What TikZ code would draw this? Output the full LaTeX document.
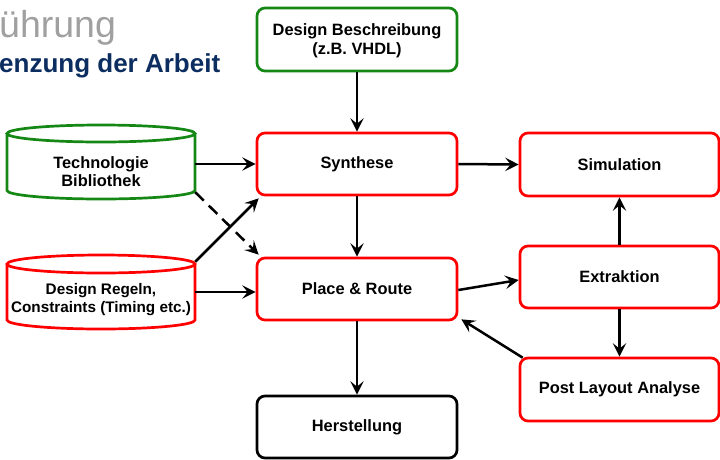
\documentclass[tikz,border=0pt]{standalone}
\usepackage{fontspec}
\setmainfont{Liberation Sans}
\usetikzlibrary{arrows.meta,calc}

\definecolor{boxred}{RGB}{255,0,0}
\definecolor{boxgreen}{RGB}{20,135,20}
\definecolor{titlegray}{RGB}{160,160,160}
\definecolor{titleblue}{RGB}{12,45,95}

\tikzset{
  flowbox/.style={draw, line width=2.7pt, rounded corners=8pt, inner sep=0pt,
    minimum width=200pt, minimum height=62pt, align=center,
    font=\fontsize{16.4}{19}\selectfont\bfseries},
  redbox/.style={flowbox, draw=boxred},
  greenbox/.style={flowbox, draw=boxgreen},
  blackbox/.style={flowbox, draw=black},
  cylarea/.style={inner sep=0pt, minimum width=188pt, minimum height=74pt},
  cyltext/.style={inner sep=0pt, align=center, font=\fontsize{16.4}{18}\selectfont\bfseries},
  cylline/.style={line width=2.7pt},
  flow/.style={line width=2.5pt, -{Stealth[length=13.5pt,width=13.5pt,inset=5.5pt]}},
  flowdash/.style={flow, dash pattern=on 12pt off 7pt}
}

\begin{document}
\begin{tikzpicture}[x=1pt,y=-1pt]
\useasboundingbox (0,0) rectangle (720,459);

% slide heading, cut at the left edge
\node[anchor=base west, inner sep=0pt, text=titlegray,
  font=\fontsize{37.5}{37}\selectfont] (head1) at (-1,37) {ührung};
\node[anchor=base west, inner sep=0pt, text=titleblue,
  font=\fontsize{26}{27}\selectfont\bfseries] (head2) at (-1,72) {enzung der Arbeit};

% process boxes
\node[greenbox, minimum height=63pt] (desc) at (357,39.5)
  {\rule{0pt}{14pt}Design Beschreibung\\(z.B. VHDL)};
\node[redbox] (syn) at (357,164) {Synthese};
\node[redbox] (pr) at (357,289) {Place \& Route};
\node[blackbox] (her) at (357,427) {Herstellung};
\node[redbox, minimum width=199pt, minimum height=63pt] (sim) at (619.5,164.5) {Simulation};
\node[redbox, minimum width=199pt] (ext) at (619.5,277) {Extraktion};
\node[redbox, minimum width=199pt, minimum height=63pt] (pla) at (619.5,389.5) {Post Layout Analyse};

% database cylinders: outline, area for the connectors, label
\draw[boxgreen, cylline]
  (101,133.5) ellipse [x radius=94pt, y radius=8.5pt]
  (7,133.5) -- (7,190.5) arc [start angle=180, end angle=360, x radius=94pt, y radius=8.5pt]
  -- (195,133.5);
\node[cylarea] (tech) at (101,162) {};
\node[cyltext] (techlabel) at (101,172) {Technologie\\Bibliothek};

\draw[boxred, cylline]
  (101,264) ellipse [x radius=94pt, y radius=9pt]
  (7,264) -- (7,320) arc [start angle=180, end angle=360, x radius=94pt, y radius=9pt]
  -- (195,264);
\node[cylarea] (regeln) at (101,292) {};
\node[cyltext, font=\fontsize{15.3}{18}\selectfont\bfseries]
  (regelnlabel) at (101,300) {Design Regeln,\\Constraints (Timing etc.)};

% connectors
\draw[flow] (desc.south) -- (syn.north);
\draw[flow] (syn.south) -- (pr.north);
\draw[flow] (pr.south) -- (her.north);
\draw[flow] (syn.west -| tech.east) -- (syn.west);
\draw[flow] ([yshift=-3pt]pr.west -| regeln.east) -- ([yshift=-3pt]pr.west);
\draw[flowdash] ([yshift=7pt]tech.south east) -- ([shift={(3pt,2pt)}]pr.north west);
\draw[flow] ([yshift=-7pt]regeln.north east) -- ([shift={(3pt,-2pt)}]syn.south west);
\draw[flow] (syn.east) -- (sim.west);
\draw[flow] ([yshift=-1pt]pr.east) -- ([yshift=-3pt]ext.west);
\draw[flow] ([shift={(4pt,-1pt)}]pla.north west) -- ([shift={(3pt,2pt)}]pr.south east);
\draw[flow] (ext.north) -- (sim.south);
\draw[flow] (ext.south) -- (pla.north);
\end{tikzpicture}
\end{document}
